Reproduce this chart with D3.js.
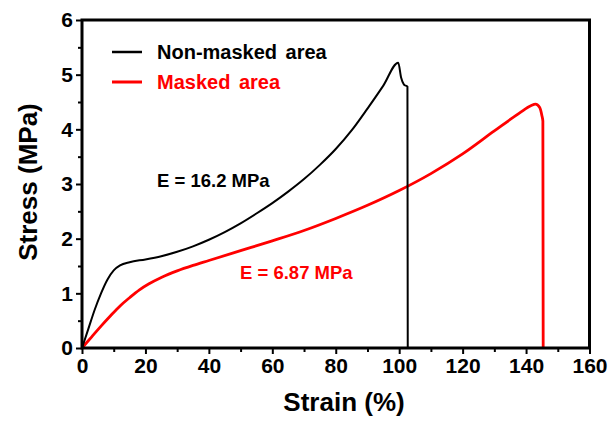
<!DOCTYPE html>
<html><head><meta charset="utf-8">
<script src="https://cdn.jsdelivr.net/npm/d3@7/dist/d3.min.js"></script>
<style>
html,body{margin:0;padding:0;background:#fff;}
svg{display:block;}
text{font-family:"Liberation Sans",Arial,sans-serif;font-weight:bold;}
</style></head>
<body>
<svg id="chart" width="611" height="421"></svg>
<script>
// ---- data ----
const xTicks = [0, 20, 40, 60, 80, 100, 120, 140, 160];
const xMinorTicks = [10, 30, 50, 70, 90, 110, 130, 150];
const yTicks = [0, 1, 2, 3, 4, 5, 6];
const yMinorTicks = [0.5, 1.5, 2.5, 3.5, 4.5, 5.5];

const seriesNames = ["Non-masked area", "Masked area"];
const seriesColors = ["#000000", "#ff0000"];
const annotations = ["E = 16.2 MPa", "E = 6.87 MPa"];

const blackStrain = [0, 2, 4, 6, 8, 10, 12, 15, 20, 25, 30, 35, 40, 45, 50, 55, 60, 65, 70, 75, 80, 85, 90, 95, 99.7, 100.6, 101.5, 102.6, 102.7];
const blackStress = [0, 0.35, 0.7, 1.0, 1.25, 1.42, 1.51, 1.57, 1.62, 1.68, 1.76, 1.86, 1.98, 2.12, 2.28, 2.46, 2.65, 2.86, 3.09, 3.35, 3.64, 3.98, 4.38, 4.8, 5.22, 4.95, 4.82, 4.78, 0];

const redStrain = [0, 3, 6, 9, 12, 15, 18, 21, 25, 30, 35, 40, 50, 60, 70, 80, 90, 100, 110, 120, 130, 138, 141.5, 143, 144.3, 145, 145.3, 145.4];
const redStress = [0, 0.2, 0.4, 0.59, 0.77, 0.92, 1.06, 1.17, 1.29, 1.41, 1.51, 1.6, 1.78, 1.96, 2.15, 2.37, 2.61, 2.88, 3.19, 3.55, 3.97, 4.3, 4.43, 4.46, 4.4, 4.25, 4.15, 0];

// ---- layout ----
const svg = d3.select("#chart");
const L = 82, R = 589.5, T = 20, B = 348;
const x = d3.scaleLinear().domain([0, 160]).range([L, R]);
const y = d3.scaleLinear().domain([0, 6]).range([B, T]);

svg.append("rect").attr("width", 611).attr("height", 421).attr("fill", "#fff");

// minor ticks
svg.append("g").attr("transform", `translate(0,${B})`)
  .call(d3.axisBottom(x).tickValues(xMinorTicks).tickSize(4).tickSizeOuter(0).tickFormat(""))
  .call(g => g.select(".domain").remove())
  .call(g => g.selectAll("line").attr("stroke-width", 2));
svg.append("g").attr("transform", `translate(${L},0)`)
  .call(d3.axisLeft(y).tickValues(yMinorTicks).tickSize(4).tickSizeOuter(0).tickFormat(""))
  .call(g => g.select(".domain").remove())
  .call(g => g.selectAll("line").attr("stroke-width", 2));

// major ticks
svg.append("g").attr("transform", `translate(0,${B})`)
  .call(d3.axisBottom(x).tickValues(xTicks).tickSize(6).tickSizeOuter(0).tickPadding(4).tickFormat(d3.format("d")))
  .call(g => g.select(".domain").remove())
  .call(g => g.selectAll("line").attr("stroke-width", 2))
  .call(g => g.selectAll("text").attr("font-size", 21).attr("fill", "#000")
      .attr("font-family", "'Liberation Sans',Arial,sans-serif").attr("font-weight", "bold"));
svg.append("g").attr("transform", `translate(${L},0)`)
  .call(d3.axisLeft(y).tickValues(yTicks).tickSize(6).tickSizeOuter(0).tickPadding(3).tickFormat(d3.format("d")))
  .call(g => g.select(".domain").remove())
  .call(g => g.selectAll("line").attr("stroke-width", 2))
  .call(g => g.selectAll("text").attr("font-size", 21).attr("fill", "#000")
      .attr("font-family", "'Liberation Sans',Arial,sans-serif").attr("font-weight", "bold"));

// curves
const line = d3.line().x(d => x(d[0])).y(d => y(d[1])).curve(d3.curveMonotoneX);
const blackData = blackStrain.map((v, i) => [v, blackStress[i]]);
const redData = redStrain.map((v, i) => [v, redStress[i]]);

svg.append("path").datum(redData).attr("d", line)
  .attr("fill", "none").attr("stroke", seriesColors[1]).attr("stroke-width", 2.8)
  .attr("stroke-linejoin", "round");
svg.append("path").datum(blackData).attr("d", line)
  .attr("fill", "none").attr("stroke", seriesColors[0]).attr("stroke-width", 2)
  .attr("stroke-linejoin", "round");

// frame
svg.append("rect").attr("x", L).attr("y", T).attr("width", R - L).attr("height", B - T)
  .attr("fill", "none").attr("stroke", "#000").attr("stroke-width", 3);

// legend
const legendY = [52, 82];
seriesNames.forEach((name, i) => {
  svg.append("line").attr("x1", 112).attr("x2", 142).attr("y1", legendY[i]).attr("y2", legendY[i])
    .attr("stroke", seriesColors[i]).attr("stroke-width", i === 0 ? 2.5 : 3);
  svg.append("text").attr("x", 157).attr("y", legendY[i]).attr("dy", "0.36em")
    .attr("font-size", 20).attr("fill", seriesColors[i]).attr("word-spacing", 3).text(name);
});

// annotations
svg.append("text").attr("x", 157).attr("y", 180).attr("dy", "0.36em")
  .attr("font-size", 18.5).attr("fill", seriesColors[0]).text(annotations[0]);
svg.append("text").attr("x", 240).attr("y", 272).attr("dy", "0.36em")
  .attr("font-size", 18.5).attr("fill", seriesColors[1]).text(annotations[1]);

// axis titles
svg.append("text").attr("x", 344).attr("y", 402).attr("dy", "0.36em").attr("text-anchor", "middle")
  .attr("font-size", 26).attr("fill", "#000").text("Strain (%)");
svg.append("text").attr("transform", `translate(28,182) rotate(-90)`).attr("dy", "0.36em")
  .attr("text-anchor", "middle").attr("font-size", 26).attr("fill", "#000").text("Stress (MPa)");
</script>
</body></html>
